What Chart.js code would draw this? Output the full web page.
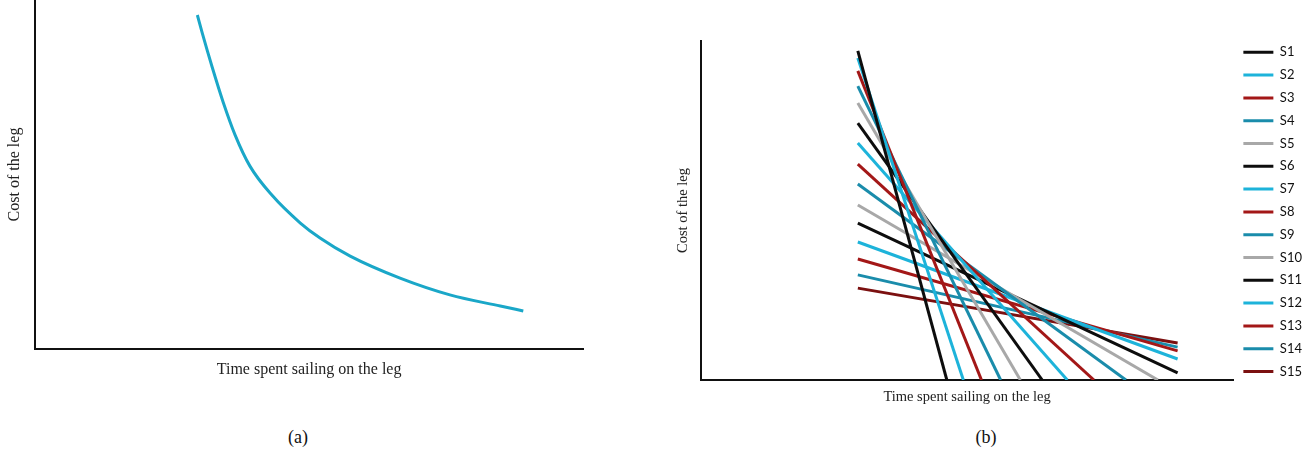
<!DOCTYPE html>
<html>
<head>
<meta charset="utf-8">
<script src="https://cdn.jsdelivr.net/npm/chart.js@4.4.0/dist/chart.umd.min.js"></script>
<style>
body { margin: 0; background: #fff; width: 1312px; height: 455px; position: relative; overflow: hidden; }
.box { position: absolute; }
#boxA { left: 0; top: 0; width: 610px; height: 390px; }
#boxB { left: 660px; top: 0; width: 652px; height: 420px; }
.cap { position: absolute; top: 427px; width: 60px; text-align: center; font: 18px/20px "Liberation Serif", serif; color: #111; }
</style>
</head>
<body>
<div class="box" id="boxA"><canvas id="chartA"></canvas></div>
<div class="box" id="boxB"><canvas id="chartB"></canvas></div>
<div class="cap" style="left:268px">(a)</div>
<div class="cap" style="left:956px">(b)</div>
<script>
// (a) cost curve, axes run 0..10 on both sides
const curveTime = [2.96, 3.05, 3.23, 3.43, 3.65, 3.92, 4.32, 4.84, 5.20, 5.75, 6.66, 7.57, 8.49, 8.91]
const curveCost = [9.57, 9.05, 8.08, 7.08, 6.13, 5.24, 4.41, 3.61, 3.18, 2.66, 2.03, 1.55, 1.23, 1.09]

// (b) tangent lines S1..S15
const lineNames = ['S1', 'S2', 'S3', 'S4', 'S5', 'S6', 'S7', 'S8', 'S9', 'S10', 'S11', 'S12', 'S13', 'S14', 'S15']
const startTime = 2.95
const startCost = [9.71, 9.50, 9.12, 8.67, 8.17, 7.58, 6.99, 6.37, 5.78, 5.16, 4.63, 4.07, 3.57, 3.10, 2.71]
const endTime = [4.62, 4.93, 5.27, 5.63, 6.00, 6.41, 6.88, 7.38, 7.98, 8.58, 8.95, 8.95, 8.95, 8.95, 8.95]
const endCost = [0, 0, 0, 0, 0, 0, 0, 0, 0, 0, 0.21, 0.62, 0.86, 0.97, 1.09]
const lineColors = ['#0d0d0d', '#1db3da', '#a31717', '#1a8cab', '#a8a8a8',
                    '#0d0d0d', '#1db3da', '#a31717', '#1a8cab', '#a8a8a8',
                    '#0d0d0d', '#1db3da', '#a31717', '#1a8cab', '#7b1010']

const serif = 'Liberation Serif'

function axis(title, size, pad) {
    return {
        type: 'linear',
        min: 0,
        max: 10,
        grid: { display: false, drawTicks: false },
        ticks: { display: false },
        border: { color: '#111', width: 2 },
        title: { display: true, text: title, color: '#222', font: { family: serif, size: size }, padding: pad }
    }
}

new Chart(document.getElementById('chartA'), {
    type: 'line',
    data: {
        datasets: [{
            data: curveTime.map((t, i) => ({ x: t, y: curveCost[i] })),
            borderColor: '#1aa7c8',
            borderWidth: 3,
            pointRadius: 0,
            cubicInterpolationMode: 'monotone',
            fill: false
        }]
    },
    options: {
        responsive: true,
        maintainAspectRatio: false,
        animation: false,
        layout: { padding: { left: 5, right: 27, top: 0, bottom: 0 } },
        plugins: { legend: { display: false }, tooltip: { enabled: false } },
        scales: {
            x: axis('Time spent sailing on the leg', 16, { top: 11.4, bottom: 10.4 }),
            y: axis('Cost of the leg', 16, { top: 0, bottom: 11 })
        }
    }
})

const tangents = lineNames.map((name, i) => ({
    label: name,
    data: [{ x: startTime, y: startCost[i] }, { x: endTime[i], y: endCost[i] }],
    borderColor: lineColors[i],
    backgroundColor: lineColors[i],
    borderWidth: 3,
    pointRadius: 0,
    fill: false
}))

new Chart(document.getElementById('chartB'), {
    type: 'line',
    data: { datasets: tangents },
    options: {
        responsive: true,
        maintainAspectRatio: false,
        animation: false,
        layout: { padding: { left: 10, right: 0, top: 36, bottom: 0 } },
        plugins: {
            tooltip: { enabled: false },
            legend: {
                position: 'right',
                align: 'start',
                labels: {
                    usePointStyle: true,
                    pointStyle: 'line',
                    pointStyleWidth: 30,
                    padding: 9.8,
                    color: '#111',
                    font: { family: 'Lato', size: 13 }
                }
            }
        },
        scales: {
            x: axis('Time spent sailing on the leg', 14.5, { top: 8.3, bottom: 14.3 }),
            y: axis('Cost of the leg', 14.5, { top: 4.6, bottom: 8.6 }),
            // empty top axis, only there to push the plot 5px below the legend top
            xTop: {
                type: 'linear',
                position: 'top',
                grid: { display: false, drawTicks: false },
                ticks: { display: false },
                border: { display: false },
                afterFit: (s) => { s.height = 5 }
            }
        }
    }
})
</script>
</body>
</html>
